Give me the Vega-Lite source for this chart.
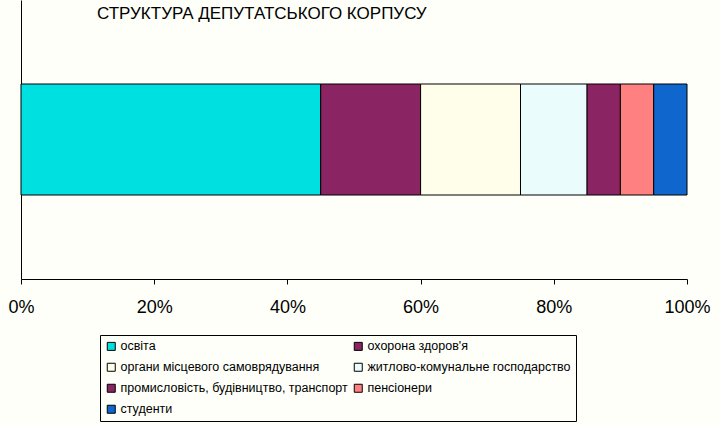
{
  "$schema": "https://vega.github.io/schema/vega-lite/v6.json",
  "width": 666,
  "height": 279,
  "autosize": {"type": "none"},
  "padding": {"left": 21, "top": 0, "right": 33, "bottom": 146},
  "background": "#fdfff8",
  "title": {
    "text": "СТРУКТУРА ДЕПУТАТСЬКОГО КОРПУСУ",
    "anchor": "start",
    "dx": 89,
    "dy": 23,
    "offset": 0,
    "baseline": "top",
    "font": "Liberation Sans",
    "fontSize": 17,
    "fontWeight": "normal",
    "color": "black"
  },
  "data": {
    "values": [
      {"sector": "освіта", "share": 45, "rank": 1},
      {"sector": "охорона здоров'я", "share": 15, "rank": 2},
      {"sector": "органи місцевого самоврядування", "share": 15, "rank": 3},
      {"sector": "житлово-комунальне господарство", "share": 10, "rank": 4},
      {"sector": "промисловість, будівництво, транспорт", "share": 5, "rank": 5},
      {"sector": "пенсіонери", "share": 5, "rank": 6},
      {"sector": "студенти", "share": 5, "rank": 7}
    ]
  },
  "mark": {"type": "bar", "size": 111, "stroke": "black", "strokeWidth": 1},
  "encoding": {
    "y": {"datum": "депутати", "type": "nominal", "axis": {"title": null, "labels": false, "ticks": false, "domainColor": "black", "domainWidth": 1}},
    "x": {
      "field": "share",
      "type": "quantitative",
      "stack": "normalize",
      "scale": {"domain": [0, 1]},
      "axis": {
        "title": null,
        "format": ".0%",
        "values": [0, 0.2, 0.4, 0.6, 0.8, 1],
        "grid": false,
        "domainColor": "black",
        "tickColor": "black",
        "tickSize": 5,
        "labelFlush": false,
        "labelPadding": 14,
        "labelFont": "Liberation Sans",
        "labelFontSize": 18,
        "labelColor": "black"
      }
    },
    "order": {"field": "rank", "type": "quantitative"},
    "color": {
      "field": "sector",
      "type": "nominal",
      "scale": {
        "domain": ["освіта", "органи місцевого самоврядування", "промисловість, будівництво, транспорт", "студенти", "охорона здоров'я", "житлово-комунальне господарство", "пенсіонери"],
        "range": ["#00e0e0", "#fefeea", "#8a2462", "#0f66cc", "#8a2462", "#eafcfc", "#ff8080"]
      },
      "legend": {
        "title": null,
        "orient": "none",
        "legendX": 79,
        "legendY": 335,
        "columns": 2,
        "columnPadding": 4,
        "rowPadding": 8,
        "padding": 5,
        "strokeColor": "black",
        "fillColor": "#fdfff8",
        "symbolType": "square",
        "symbolSize": 64,
        "symbolStrokeColor": "black",
        "symbolStrokeWidth": 1,
        "symbolOpacity": 1,
        "labelFont": "Liberation Sans",
        "labelFontSize": 12.5,
        "labelColor": "black",
        "labelLimit": 400,
        "labelOffset": 3
      }
    }
  },
  "config": {"view": {"stroke": null}}
}
